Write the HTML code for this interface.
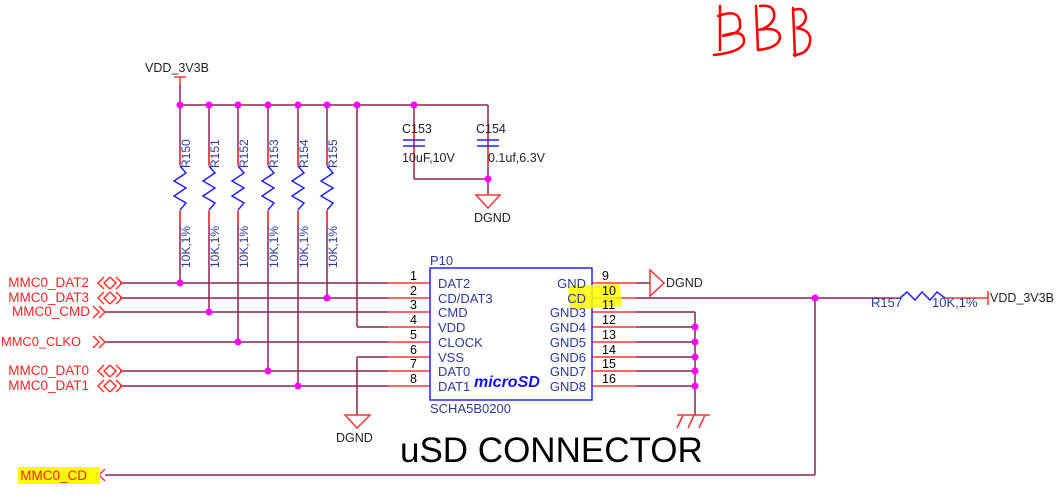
<!DOCTYPE html>
<html><head><style>
body{margin:0;background:#fff;}
svg{display:block;font-family:"Liberation Sans",sans-serif;}
</style></head><body>
<svg width="1058" height="497" viewBox="0 0 1058 497" xmlns="http://www.w3.org/2000/svg">
<rect width="1058" height="497" fill="#fff"/>
<g fill="none" stroke="#f00" stroke-width="2.5" stroke-linecap="round">
<path d="M720 6 L720 50 M718 16 Q740 8 740 24 Q742 34 722 36 Q745 28 744 42 Q742 52 714 55"/>
<path d="M756 6 L758 50 M760 6 Q776 4 774 18 Q770 28 758 30 Q780 26 780 38 Q778 48 758 50"/>
<path d="M793 8 L795 56 M794 10 Q805 6 806 18 Q804 26 796 28 Q812 30 810 42 Q808 54 794 55"/>
</g>
<g stroke="#8b2252" stroke-width="1.5" fill="none">
<line x1="180" y1="105" x2="488" y2="105"/>
<line x1="180" y1="85" x2="180" y2="105"/>
<line x1="488" y1="105" x2="488" y2="195"/>
<line x1="414" y1="105" x2="414" y2="179"/>
<line x1="414" y1="179" x2="488" y2="179"/>
<line x1="180" y1="105" x2="180" y2="283"/>
<line x1="209" y1="105" x2="209" y2="312"/>
<line x1="238" y1="105" x2="238" y2="342"/>
<line x1="268" y1="105" x2="268" y2="371"/>
<line x1="298" y1="105" x2="298" y2="386"/>
<line x1="327" y1="105" x2="327" y2="298"/>
<line x1="357" y1="105" x2="357" y2="327"/>
<line x1="357" y1="327" x2="388" y2="327"/>
<line x1="120" y1="283" x2="388" y2="283"/>
<line x1="120" y1="298" x2="388" y2="298"/>
<line x1="105" y1="312" x2="388" y2="312"/>
<line x1="105" y1="342" x2="388" y2="342"/>
<line x1="120" y1="371" x2="388" y2="371"/>
<line x1="120" y1="386" x2="388" y2="386"/>
<line x1="357" y1="357" x2="388" y2="357"/>
<line x1="357" y1="357" x2="357" y2="415"/>
<line x1="636" y1="283" x2="650" y2="283"/>
<line x1="636" y1="298" x2="890" y2="298"/>
<line x1="815" y1="298" x2="815" y2="475"/>
<line x1="105" y1="475" x2="815" y2="475"/>
<line x1="636" y1="312" x2="695" y2="312"/>
<line x1="636" y1="327" x2="695" y2="327"/>
<line x1="636" y1="342" x2="695" y2="342"/>
<line x1="636" y1="357" x2="695" y2="357"/>
<line x1="636" y1="371" x2="695" y2="371"/>
<line x1="636" y1="386" x2="695" y2="386"/>
<line x1="695" y1="312" x2="695" y2="415"/>
</g>
<g stroke="#f33" stroke-width="1.5" fill="none">
<line x1="180" y1="77" x2="180" y2="85"/><line x1="174" y1="77" x2="186" y2="77"/>
<line x1="388" y1="283" x2="430" y2="283"/><line x1="388" y1="298" x2="430" y2="298"/>
<line x1="388" y1="312" x2="430" y2="312"/><line x1="388" y1="327" x2="430" y2="327"/>
<line x1="388" y1="342" x2="430" y2="342"/><line x1="388" y1="357" x2="430" y2="357"/>
<line x1="388" y1="371" x2="430" y2="371"/><line x1="388" y1="386" x2="430" y2="386"/>
<line x1="592" y1="283" x2="636" y2="283"/><line x1="592" y1="298" x2="636" y2="298"/>
<line x1="592" y1="312" x2="636" y2="312"/><line x1="592" y1="327" x2="636" y2="327"/>
<line x1="592" y1="342" x2="636" y2="342"/><line x1="592" y1="357" x2="636" y2="357"/>
<line x1="592" y1="371" x2="636" y2="371"/><line x1="592" y1="386" x2="636" y2="386"/>
<line x1="885" y1="298" x2="900" y2="298"/><line x1="945" y1="298" x2="988" y2="298"/>
<line x1="988" y1="291" x2="988" y2="305"/>
<path d="M476 195 L500 195 L488 208 Z"/>
<path d="M345 415 L370 415 L357 428 Z"/>
<path d="M650 270 L650 296 L664 283 Z"/>
<path d="M677 415 L710 415 M683 415 L677 428 M694 415 L688 428 M705 415 L699 428"/>
<path d="M104 277 L98 283 L104 289 M110 277 L104 283 L110 289 M110 277 L116 283 L110 289 M116 277 L122 283 L116 289"/>
<path d="M104 292 L98 298 L104 304 M110 292 L104 298 L110 304 M110 292 L116 298 L110 304 M116 292 L122 298 L116 304"/>
<path d="M93 306 L99 312 L93 318 M99 306 L105 312 L99 318"/>
<path d="M93 336 L99 342 L93 348 M99 336 L105 342 L99 348"/>
<path d="M104 365 L98 371 L104 377 M110 365 L104 371 L110 377 M110 365 L116 371 L110 377 M116 365 L122 371 L116 377"/>
<path d="M104 380 L98 386 L104 392 M110 380 L104 386 L110 392 M110 380 L116 386 L110 392 M116 380 L122 386 L116 392"/>
<path d="M99 469 L93 475 L99 481 M105 469 L99 475 L105 481"/>
</g>
<g stroke="#f33" stroke-width="1.5">
<line x1="180" y1="150" x2="180" y2="166"/><line x1="180" y1="210" x2="180" y2="225"/>
<line x1="209" y1="150" x2="209" y2="166"/><line x1="209" y1="210" x2="209" y2="225"/>
<line x1="238" y1="150" x2="238" y2="166"/><line x1="238" y1="210" x2="238" y2="225"/>
<line x1="268" y1="150" x2="268" y2="166"/><line x1="268" y1="210" x2="268" y2="225"/>
<line x1="298" y1="150" x2="298" y2="166"/><line x1="298" y1="210" x2="298" y2="225"/>
<line x1="327" y1="150" x2="327" y2="166"/><line x1="327" y1="210" x2="327" y2="225"/>
<line x1="414" y1="125" x2="414" y2="140"/><line x1="414" y1="147" x2="414" y2="165"/>
<line x1="488" y1="125" x2="488" y2="140"/><line x1="488" y1="147" x2="488" y2="165"/>
</g>
<g fill="#fff" stroke="#fff"><rect x="170" y="166" width="170" height="44"/></g>
<g stroke="#22f" stroke-width="1.5" fill="none">
<path d="M180 166 L186 173 L174 181 L186 188 L174 196 L186 203 L180 210"/>
<path d="M209 166 L215 173 L203 181 L215 188 L203 196 L215 203 L209 210"/>
<path d="M238 166 L244 173 L232 181 L244 188 L232 196 L244 203 L238 210"/>
<path d="M268 166 L274 173 L262 181 L274 188 L262 196 L274 203 L268 210"/>
<path d="M298 166 L304 173 L292 181 L304 188 L292 196 L304 203 L298 210"/>
<path d="M327 166 L333 173 L321 181 L333 188 L321 196 L333 203 L327 210"/>
<path d="M900 298 L907 292 L915 300 L922 292 L930 300 L937 292 L945 298"/>
<line x1="403" y1="140" x2="425" y2="140"/><line x1="403" y1="146" x2="425" y2="146"/>
<line x1="477" y1="140" x2="499" y2="140"/><line x1="477" y1="146" x2="499" y2="146"/>
<rect x="430" y="268" width="162" height="132"/>
</g>
<g fill="#f0f">
<circle cx="180" cy="105" r="3.5"/><circle cx="209" cy="105" r="3.5"/><circle cx="238" cy="105" r="3.5"/>
<circle cx="268" cy="105" r="3.5"/><circle cx="298" cy="105" r="3.5"/><circle cx="327" cy="105" r="3.5"/>
<circle cx="357" cy="105" r="3.5"/><circle cx="414" cy="105" r="3.5"/><circle cx="488" cy="179" r="3.5"/>
<circle cx="180" cy="283" r="3.5"/><circle cx="327" cy="298" r="3.5"/><circle cx="209" cy="312" r="3.5"/>
<circle cx="238" cy="342" r="3.5"/><circle cx="268" cy="371" r="3.5"/><circle cx="298" cy="386" r="3.5"/>
<circle cx="815" cy="298" r="3.5"/>
<circle cx="695" cy="327" r="3.5"/><circle cx="695" cy="342" r="3.5"/><circle cx="695" cy="357" r="3.5"/>
<circle cx="695" cy="371" r="3.5"/><circle cx="695" cy="386" r="3.5"/>
</g>
<path d="M568 286 L620 284 L622 306 L570 310 Z" fill="#ff0" opacity="0.85"/>
<rect x="18" y="467" width="82" height="17" fill="#ff0"/>
<g font-size="12.5" fill="#222">
<text x="145" y="72">VDD_3V3B</text>
<text x="990" y="302">VDD_3V3B</text>
<text x="474" y="222">DGND</text>
<text x="336" y="442">DGND</text>
<text x="666" y="287">DGND</text>
<text x="402" y="133">C153</text>
<text x="476" y="133">C154</text>
<text x="402" y="162">10uF,10V</text>
<text x="488" y="162">0.1uf,6.3V</text>
</g>
<g font-size="12.5" fill="#000">
<text x="410" y="280">1</text><text x="410" y="295">2</text><text x="410" y="309">3</text><text x="410" y="324">4</text>
<text x="410" y="339">5</text><text x="410" y="354">6</text><text x="410" y="368">7</text><text x="410" y="383">8</text>
<text x="602" y="280">9</text><text x="602" y="295">10</text><text x="602" y="309">11</text><text x="602" y="324">12</text>
<text x="602" y="339">13</text><text x="602" y="354">14</text><text x="602" y="368">15</text><text x="602" y="383">16</text>
</g>
<g font-size="13" fill="#2a3a9a">
<text x="430" y="265">P10</text>
<text x="430" y="413">SCHA5B0200</text>
<text x="438" y="288">DAT2</text><text x="438" y="303">CD/DAT3</text><text x="438" y="317">CMD</text>
<text x="438" y="332">VDD</text><text x="438" y="347">CLOCK</text><text x="438" y="362">VSS</text>
<text x="438" y="376">DAT0</text><text x="438" y="391">DAT1</text>
<g text-anchor="end">
<text x="586" y="288">GND</text><text x="586" y="303">CD</text><text x="586" y="317">GND3</text>
<text x="586" y="332">GND4</text><text x="586" y="347">GND5</text><text x="586" y="362">GND6</text>
<text x="586" y="376">GND7</text><text x="586" y="391">GND8</text></g>
<text x="871" y="307">R157</text><text x="932" y="307">10K,1%</text>
</g>
<text x="474" y="387" font-size="16" font-weight="bold" font-style="italic" fill="#11e">microSD</text>
<g font-size="12" fill="#2a3a9a">
<text transform="translate(190,168) rotate(-90)">R150</text>
<text transform="translate(219,168) rotate(-90)">R151</text>
<text transform="translate(248,168) rotate(-90)">R152</text>
<text transform="translate(278,168) rotate(-90)">R153</text>
<text transform="translate(308,168) rotate(-90)">R154</text>
<text transform="translate(337,168) rotate(-90)">R155</text>
<text transform="translate(190,268) rotate(-90)">10K,1%</text>
<text transform="translate(219,268) rotate(-90)">10K,1%</text>
<text transform="translate(248,268) rotate(-90)">10K,1%</text>
<text transform="translate(278,268) rotate(-90)">10K,1%</text>
<text transform="translate(308,268) rotate(-90)">10K,1%</text>
<text transform="translate(337,268) rotate(-90)">10K,1%</text>
</g>
<g font-size="13.5" fill="#f22" text-anchor="end">
<text x="89" y="287">MMC0_DAT2</text><text x="89" y="302">MMC0_DAT3</text>
<text x="90" y="316">MMC0_CMD</text>
<text x="89" y="375">MMC0_DAT0</text><text x="89" y="390">MMC0_DAT1</text>
<text x="87" y="480">MMC0_CD</text>
</g>
<text x="1" y="346" font-size="13" fill="#f22" textLength="80" lengthAdjust="spacingAndGlyphs">MMC0_CLKO</text>
<text x="400" y="462" font-size="35" fill="#000">uSD CONNECTOR</text>
</svg>
</body></html>
